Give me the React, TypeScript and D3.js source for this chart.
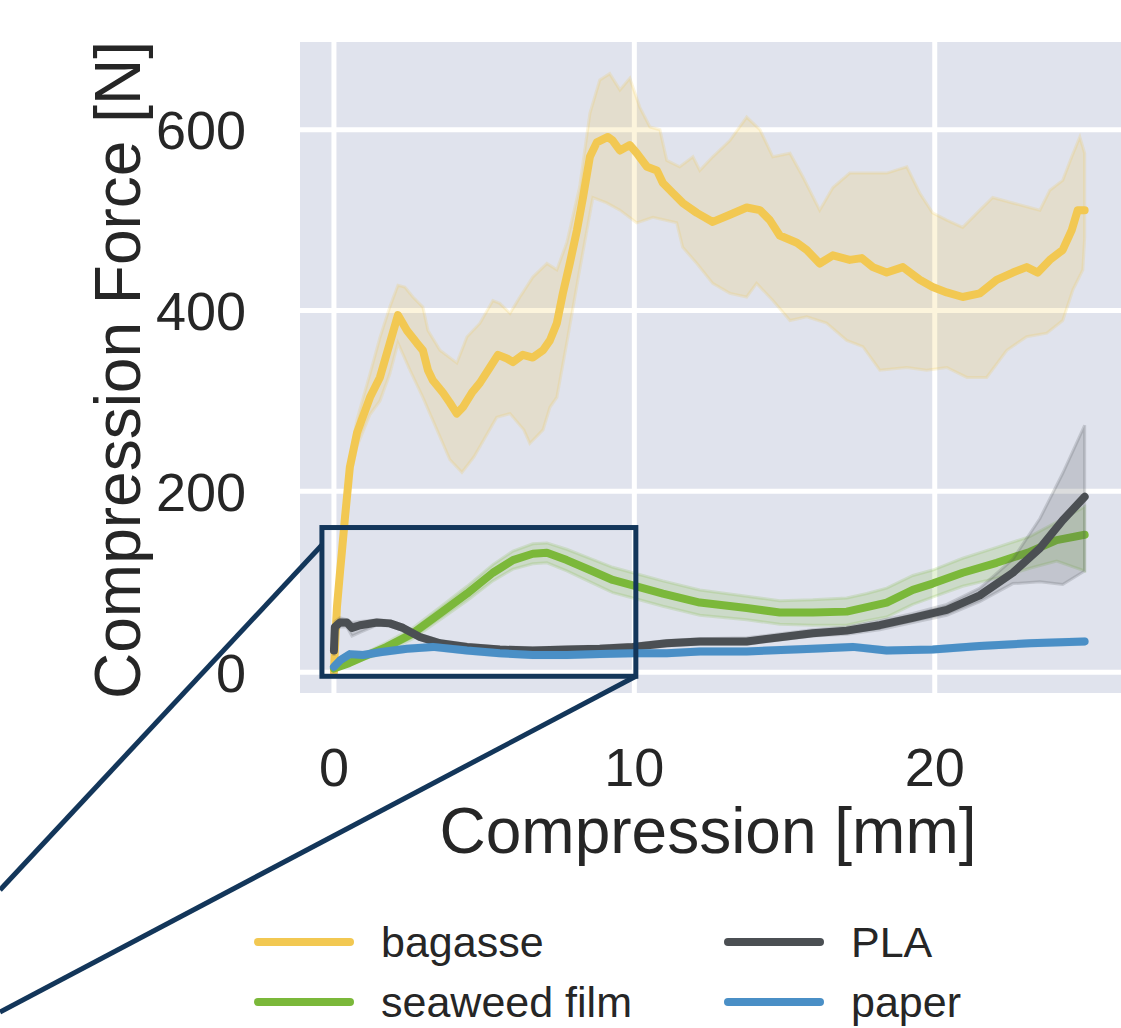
import React from 'react';
import * as d3 from 'd3';

// compression curves, [mm, N]
const bagasseMean = [[0,0],[0.05,40],[0.1,72],[0.2,110],[0.27,135],[0.37,172],[0.53,227],[0.77,265],[1.2,304],[1.53,326],[1.86,364],[2.13,395],[2.43,378],[2.76,364],[2.96,356],[3.13,334],[3.29,323],[3.63,309],[3.86,298],[4.09,286],[4.29,293],[4.59,309],[4.86,320],[5.19,337],[5.46,351],[5.76,347],[5.96,343],[6.29,351],[6.62,348],[6.96,356],[7.19,367],[7.42,386],[7.62,419],[7.85,452],[8.09,489],[8.29,525],[8.52,570],[8.75,586],[9.12,592],[9.28,588],[9.52,577],[9.85,583],[10.08,574],[10.42,559],[10.75,555],[10.95,541],[11.28,530],[11.61,519],[12.08,508],[12.61,498],[13.18,506],[13.74,514],[14.18,511],[14.51,500],[14.84,483],[15.41,475],[15.74,467],[16.17,452],[16.61,461],[17.17,456],[17.57,458],[17.94,448],[18.4,442],[18.94,448],[19.5,434],[19.93,426],[20.4,420],[20.93,415],[21.5,419],[22.06,434],[22.6,442],[23.06,448],[23.43,442],[23.83,456],[24.26,467],[24.56,489],[24.76,511],[24.99,511]];
const bagasseHigh = [[0,0],[0.27,140],[0.53,235],[0.77,280],[1.2,330],[1.53,370],[1.86,404],[2.13,428],[2.36,426],[2.63,415],[2.96,404],[3.13,378],[3.53,356],[4.09,342],[4.43,371],[4.86,386],[5.29,411],[5.52,408],[5.86,397],[6.19,415],[6.62,437],[7.09,452],[7.42,445],[7.75,475],[8.18,537],[8.52,618],[8.85,655],[9.18,662],[9.52,644],[9.85,657],[10.18,625],[10.52,603],[10.85,600],[11.08,566],[11.51,559],[11.95,570],[12.18,555],[12.61,570],[13.18,588],[13.74,614],[14.18,600],[14.61,570],[15.18,574],[15.61,548],[16.17,511],[16.61,536],[17.17,552],[17.74,552],[18.4,552],[19.07,559],[19.5,530],[19.93,508],[20.4,500],[20.93,492],[21.5,511],[21.93,525],[22.6,519],[23.16,514],[23.5,511],[23.83,533],[24.26,544],[24.56,570],[24.83,592],[24.99,574]];
const bagasseLow = [[0,0],[0.27,125],[0.53,215],[0.77,250],[1.2,285],[1.53,300],[1.86,330],[2.13,364],[2.53,334],[2.96,304],[3.43,268],[3.86,235],[4.26,221],[4.66,238],[4.99,257],[5.42,282],[5.86,286],[6.32,268],[6.52,253],[6.96,268],[7.19,293],[7.42,304],[7.75,364],[8.18,445],[8.62,525],[9.08,519],[9.52,511],[10.08,497],[10.62,503],[11.41,497],[11.61,470],[12.08,452],[12.61,430],[13.18,419],[13.74,415],[14.07,430],[14.61,411],[15.18,389],[15.74,393],[16.4,386],[17.07,367],[17.61,360],[18.17,334],[19.07,337],[19.73,334],[20.4,337],[21.07,326],[21.73,326],[22.4,356],[23.06,371],[23.73,375],[24.26,389],[24.6,423],[24.93,445],[24.99,480]];

const seaweedX = [0,0.5,0.97,1.76,2.63,3.53,4.43,5.29,5.96,6.62,7.09,7.75,8.52,9.28,9.95,10.95,12.18,13.74,14.84,15.94,17.07,17.74,18.4,19.27,19.93,20.93,22.06,23.16,24.06,24.99];
const seaweedMean = [4,10,17,28,43,65,87,110,124,131,132,124,113,102,96,87,77,71,66,66,67,72,77,91,98,110,121,133,146,152];
const seaweedHigh = [5,12,20,33,49,72,95,119,134,142,143,136,126,116,110,101,91,84,79,80,82,87,93,107,113,126,138,150,166,183];
const seaweedLow = [3,8,14,23,37,58,79,101,114,120,121,112,100,88,82,73,63,58,53,52,52,57,61,75,83,95,104,115,123,112];

const plaX = [0,0.03,0.2,0.43,0.6,0.87,1.43,1.86,2.3,2.86,3.53,4.43,5.52,6.62,7.75,8.85,9.95,11.08,12.18,13.74,15.94,17.07,18.17,19.27,20.4,21.5,22.6,23.5,24.26,24.99];
const plaMean = [24,50,55,55,49,52,55,54,49,39,32,28,25,24,25,26,28,32,34,34,43,46,52,60,69,85,110,137,168,194];
const plaHigh = [30,56,60,58,55,56,58,57,52,42,35,31,28,27,28,29,31,35,37,38,47,50,57,65,75,93,125,170,220,273];
const plaLow = [18,44,50,50,40,44,52,51,46,36,29,25,22,21,22,23,25,29,31,31,40,42,47,55,63,78,98,100,97,112];

const paperX = [0,0.2,0.53,0.97,1.53,2.43,3.29,4.43,5.52,6.62,7.75,8.85,9.95,11.08,12.18,13.74,15.94,17.27,18.4,19.93,21.5,23.16,24.99];
const paperMean = [6,13,20,19,22,26,28,24,21,19,19,20,21,21,23,23,26,28,24,25,29,32,34];
const paperHigh = [9,16,23,22,25,29,31,27,24,22,22,23,24,24,26,26,29,31,27,28,32,35,37];
const paperLow = [3,10,17,16,19,23,25,21,18,16,16,17,18,18,20,20,23,25,21,22,26,29,31];

const xTicks = [0, 10, 20];
const yTicks = [0, 200, 400, 600];
const zoomBox = { x0: -0.4, x1: 10.05, y0: -4.5, y1: 160 };

const zip = (xs, ys) => xs.map((x, i) => [x, ys[i]]);

const series = [
  { name: 'bagasse', color: '#F2C852', mean: bagasseMean, high: bagasseHigh, low: bagasseLow },
  { name: 'seaweed film', color: '#7BB83A', mean: zip(seaweedX, seaweedMean), high: zip(seaweedX, seaweedHigh), low: zip(seaweedX, seaweedLow) },
  { name: 'PLA', color: '#4B4F53', mean: zip(plaX, plaMean), high: zip(plaX, plaHigh), low: zip(plaX, plaLow) },
  { name: 'paper', color: '#4A8FC6', mean: zip(paperX, paperMean), high: zip(paperX, paperHigh), low: zip(paperX, paperLow) },
];

const W = 1121, H = 1028;
const font = 'Arial, "Liberation Sans", sans-serif';

export default function App() {
  const x = d3.scaleLinear().domain([-1.13, 26.4]).range([300, 1127]);
  const y = d3.scaleLinear().domain([-23, 697]).range([693, 42]);
  const line = d3.line().x(d => x(d[0])).y(d => y(d[1]));

  const band = s => line(s.high.concat(s.low.slice().reverse())) + 'Z';

  const bx0 = x(zoomBox.x0), bx1 = x(zoomBox.x1), by0 = y(zoomBox.y0), by1 = y(zoomBox.y1);
  const navy = '#13365A';

  const legendRows = [
    [series[0], series[2]],
    [series[1], series[3]],
  ];

  return (
    <svg width={W} height={H} style={{ position: 'absolute', left: 0, top: 0 }} fontFamily={font}>
      <rect x={0} y={0} width={W} height={H} fill="#fff" />
      <rect x={300} y={42} width={W - 300} height={651} fill="#E0E3ED" />
      {xTicks.map(t => (
        <line key={'gx' + t} x1={x(t)} x2={x(t)} y1={42} y2={693} stroke="#fff" strokeWidth={5} />
      ))}
      {yTicks.map(t => (
        <line key={'gy' + t} x1={300} x2={W} y1={y(t)} y2={y(t)} stroke="#fff" strokeWidth={5} />
      ))}

      {series.map(s => (
        <g key={s.name}>
          <path d={band(s)} fill={s.color} fillOpacity={0.2} stroke={s.color} strokeOpacity={0.2} strokeWidth={3} />
          <path d={line(s.mean)} fill="none" stroke={s.color} strokeWidth={8} strokeLinejoin="round" strokeLinecap="round" />
        </g>
      ))}

      {yTicks.map(t => (
        <text key={'ty' + t} x={246} y={y(t)} dy="0.36em" textAnchor="end" fontSize={54} fill="#262626">{t}</text>
      ))}
      {xTicks.map(t => (
        <text key={'tx' + t} x={x(t)} y={786} textAnchor="middle" fontSize={54} fill="#262626">{t}</text>
      ))}
      <text x={708} y={853} textAnchor="middle" fontSize={64} fill="#262626">Compression [mm]</text>
      <text transform="translate(140,370) rotate(-90)" textAnchor="middle" fontSize={64} fill="#262626">Compression Force [N]</text>

      <rect x={bx0} y={by1} width={bx1 - bx0} height={by0 - by1} fill="none" stroke={navy} strokeWidth={5} />
      <line x1={bx0} y1={545} x2={0} y2={890} stroke={navy} strokeWidth={5} />
      <line x1={bx1} y1={by0} x2={0} y2={1012} stroke={navy} strokeWidth={5} />

      {legendRows.map((row, r) => row.map((s, c) => {
        const lx = c === 0 ? 258 : 728;
        const ly = 942 + r * 60;
        return (
          <g key={s.name}>
            <line x1={lx} x2={lx + 92} y1={ly} y2={ly} stroke={s.color} strokeWidth={8} strokeLinecap="round" />
            <text x={lx + 123} y={ly + 15} fontSize={43} fill="#262626">{s.name}</text>
          </g>
        );
      }))}
    </svg>
  );
}
